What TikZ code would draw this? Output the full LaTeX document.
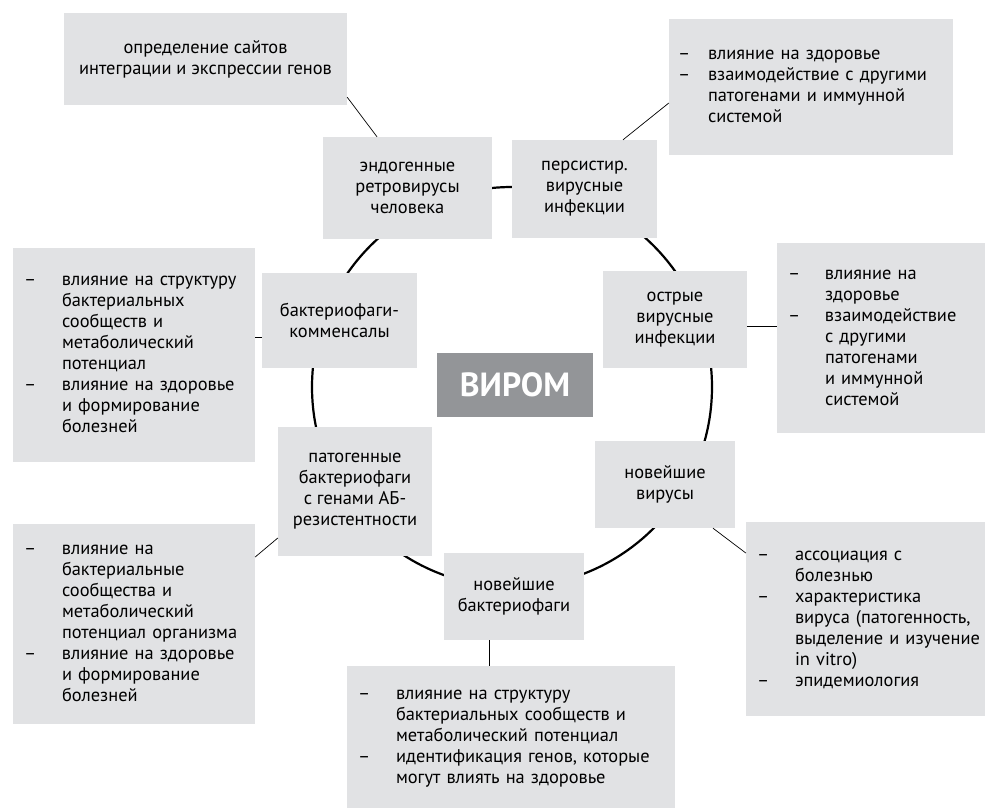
\documentclass[tikz,border=0pt]{standalone}
\usepackage{fontspec}
\setmainfont{PT Sans}
\definecolor{boxgray}{RGB}{225,226,228}
\definecolor{viromgray}{RGB}{147,149,152}
\begin{document}
\begin{tikzpicture}[x=1pt,y=-1pt,
  base/.style={fill=boxgray, inner sep=0pt, font=\fontsize{18.4}{21}\selectfont},
  small/.style={base, align=center},
  listbox/.style={base, align=left, inner xsep=11pt},
  thin/.style={line width=0.7pt},
  ringline/.style={line width=2.2pt}]
\useasboundingbox (0,0) rectangle (985,808);
\fill[white] (0,0) rectangle (985,808);
% ring
\node[circle, draw, ringline, minimum size=400pt, inner sep=0pt] (ring) at (512,387) {};
% central
\node[fill=viromgray, text=white, font=\bfseries\fontsize{33.5}{38}\selectfont,
      minimum width=156pt, minimum height=64pt, inner sep=0pt] (virom) at (515,385) {ВИРОМ};
% ring boxes
\node[small, minimum width=169pt, minimum height=102pt] (endo) at (407.5,188) {эндогенные\\ретровирусы\\человека};
\node[small, minimum width=145pt, minimum height=98pt] (pers) at (584.5,189) {персистир.\\вирусные\\инфекции};
\node[small, minimum width=155pt, minimum height=95pt] (comm) at (339.5,320.5) {бактериофаги-\\комменсалы};
\node[small, minimum width=144pt, minimum height=97pt] (acute) at (675,319.5) {острые\\вирусные\\инфекции};
\node[small, minimum width=154pt, minimum height=129pt] (path) at (355,491.5) {патогенные\\бактериофаги\\с генами АБ-\\резистентности};
\node[small, minimum width=140pt, minimum height=87pt] (nv) at (665,484.5) {новейшие\\вирусы};
\node[small, minimum width=140pt, minimum height=87pt] (nb) at (514,596.5) {новейшие\\бактериофаги};
% outer boxes
\node[small, minimum width=283pt, minimum height=92pt] (def) at (205.5,59) {определение сайтов\\интеграции и экспрессии генов};
\node[listbox, inner xsep=9pt, text width=266pt, minimum height=136pt] (tr) at (811,87)
 {\begin{tabular}{@{}p{30pt}@{}l@{}}–&влияние на здоровье\\–&взаимодействие с другими\\&патогенами и иммунной\\&системой\end{tabular}};
\node[listbox, text width=220pt, minimum height=214pt] (lm) at (134,355)
 {\begin{tabular}{@{}p{38pt}@{}l@{}}–&влияние на структуру\\&бактериальных\\&сообществ и\\&метаболический\\&потенциал\\–&влияние на здоровье\\&и формирование\\&болезней\end{tabular}};
\node[listbox, text width=186pt, minimum height=190pt] (rm) at (881,338)
 {\begin{tabular}{@{}p{37pt}@{}l@{}}–&влияние на\\&здоровье\\–&взаимодействие\\&с другими\\&патогенами\\&и иммунной\\&системой\end{tabular}};
\node[listbox, text width=220pt, minimum height=200pt] (bl) at (134,624)
 {\begin{tabular}{@{}p{38pt}@{}l@{}}–&влияние на\\&бактериальные\\&сообщества и\\&метаболический\\&потенциал организма\\–&влияние на здоровье\\&и формирование\\&болезней\end{tabular}};
\node[listbox, text width=217pt, minimum height=194pt] (br) at (865.5,619)
 {\begin{tabular}{@{}p{38pt}@{}l@{}}–&ассоциация с\\&болезнью\\–&характеристика\\&вируса (патогенность,\\&выделение и изучение\\&in vitro)\\–&эпидемиология\end{tabular}};
\node[listbox, text width=306pt, minimum height=142pt] (bot) at (511,737)
 {\begin{tabular}{@{}p{38pt}@{}l@{}}–&влияние на структуру\\&бактериальных сообществ и\\&метаболический потенциал\\–&идентификация генов, которые\\&могут влиять на здоровье\end{tabular}};
% connectors
\draw[thin] ([yshift=8pt]def.south east) -- ([xshift=-30.5pt]endo.north);
\draw[thin] ([xshift=38.5pt]pers.north) -- ([yshift=-16pt]tr.west);
\draw[thin] ([yshift=18pt]lm.east) -- ([yshift=-16.5pt]comm.west);
\draw[thin] ([yshift=-6.5pt]acute.east) -- ([yshift=12pt]rm.west);
\draw[thin] ([yshift=-46.5pt]path.west) -- ([yshift=67pt]bl.east);
\draw[thin] ([xshift=48pt]nv.south) -- ([yshift=66pt]br.west);
\draw[thin] ([xshift=-25pt]nb.south) -- ([xshift=-25pt]nb.south |- bot.north);
\end{tikzpicture}
\end{document}
